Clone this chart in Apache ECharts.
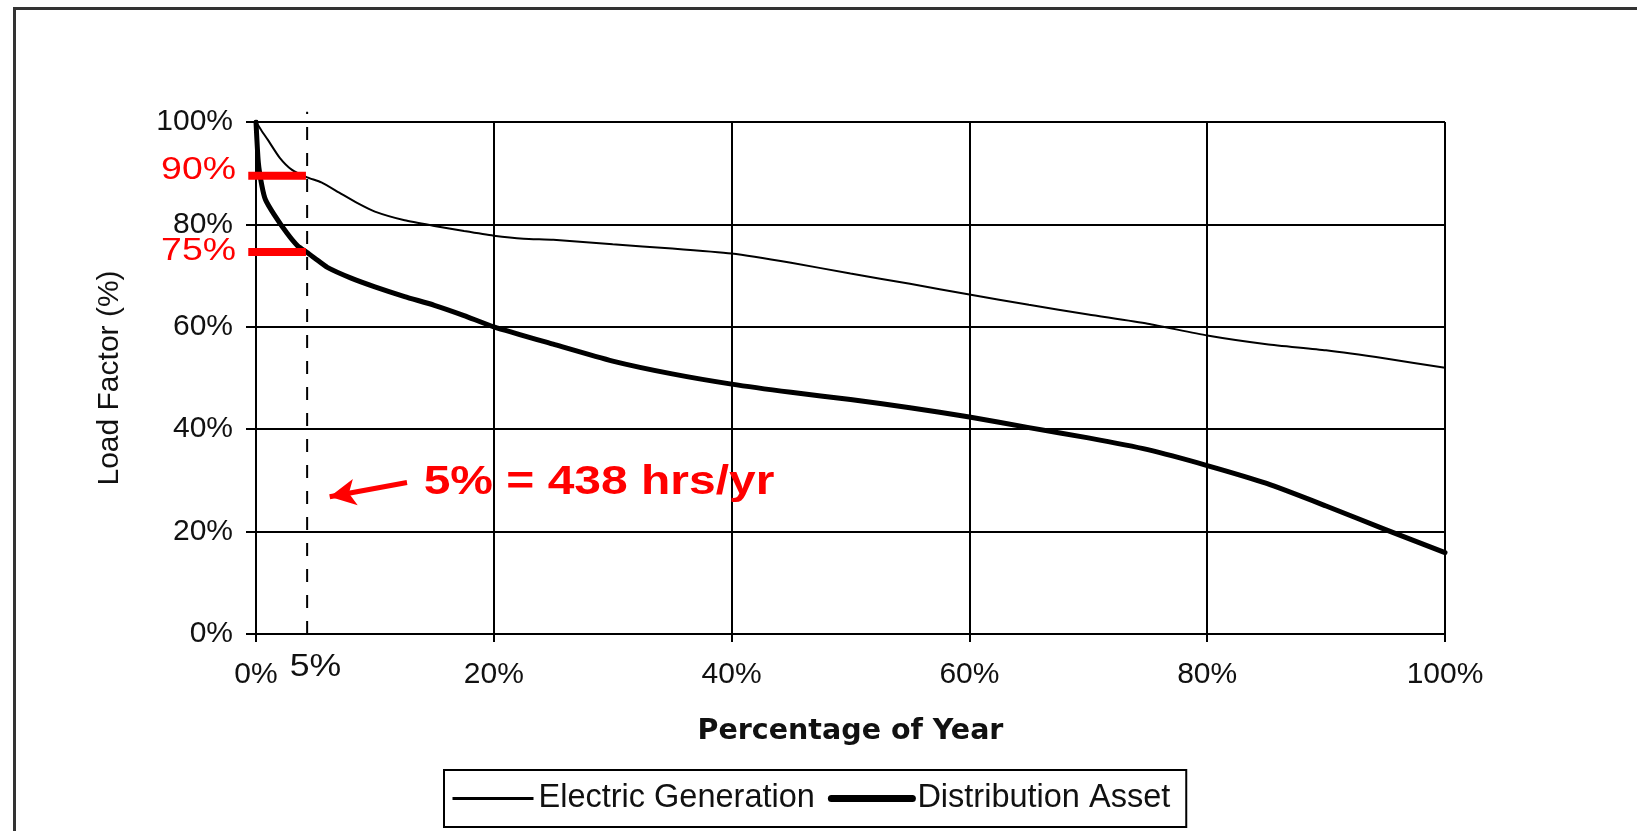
<!DOCTYPE html>
<html><head><meta charset="utf-8">
<script src="https://cdn.jsdelivr.net/npm/echarts@6/dist/echarts.min.js"></script>
<style>html,body{margin:0;padding:0;background:#fff}#c{width:1637px;height:831px}</style>
</head><body><div id="c"></div>
<script>
// ---- data ----
const seriesNames = ['Electric Generation', 'Distribution Asset'];
const genX  = [0, 0.5, 1, 2, 3, 4.3, 5.5, 7, 8.5, 10, 12.5, 15, 17.5, 20, 22.5, 25, 30, 35, 40, 45, 50, 55, 60, 65, 70, 75, 80, 85, 90, 95, 100];
const genY  = [100, 98.2, 96.5, 93, 90.7, 89.2, 88.2, 86.2, 84.2, 82.5, 80.8, 79.7, 78.7, 77.8, 77.2, 77, 76.1, 75.3, 74.3, 72.5, 70.4, 68.4, 66.3, 64.3, 62.4, 60.6, 58.3, 56.6, 55.4, 53.8, 52];
const distX = [0, 0.2, 0.5, 0.8, 1.5, 2.6, 3.5, 4.3, 5, 6, 8, 10, 12.5, 15, 17.5, 20, 25, 30, 35, 40, 45, 50, 55, 60, 65, 70, 75, 80, 85, 90, 95, 100];
const distY = [100, 92, 87.5, 84.8, 82, 78.3, 75.8, 74.5, 73.3, 71.6, 69.5, 67.8, 65.9, 64.2, 62.2, 60, 56.6, 53.3, 50.8, 48.8, 47.2, 45.8, 44.2, 42.4, 40.3, 38.3, 36, 32.9, 29.4, 25, 20.4, 15.9];
const xTickValues = [0, 20, 40, 60, 80, 100];
const xTickLabels = ['0%', '20%', '40%', '60%', '80%', '100%'];
const yTickValues = [0, 20, 40, 60, 80, 100];
const yTickLabels = ['0%', '20%', '40%', '60%', '80%', '100%'];
const markerX = 4.3;            // dashed line position (percentage of year)
const markerLabelX = 5;         // "5%" extra tick label
const markerLabel = '5%';
const levelValues = [89.5, 74.6];
const levelLabelValues = [90.6, 74.8];
const levelLabels = ['90%', '75%'];
const levelBarStart = -0.65;
const levelBarEnd = 4.2;
const noteText = '5% = 438 hrs/yr';
const noteAt = [14.1, 29.6];
const arrowFrom = [12.7, 29.6];
const arrowTo = [6.2, 26.8];

const FONT = '"Liberation Sans", Arial, sans-serif';
const chart = echarts.init(document.getElementById('c'));
const option = {
  animation: false,
  backgroundColor: '#fff',
  textStyle: { fontFamily: FONT },
  grid: { left: 256, right: 192, top: 122, bottom: 197 },
  xAxis: {
    type: 'value', min: 0, max: 100, interval: 20,
    axisLine: { lineStyle: { color: '#000', width: 2 } },
    axisTick: { show: true, length: 8, lineStyle: { color: '#000', width: 2 } },
    axisLabel: { color: '#111', fontSize: 30, margin: 26, fontFamily: FONT,
      formatter: v => xTickLabels[xTickValues.indexOf(v)] },
    splitLine: { show: true, lineStyle: { color: '#000', width: 2 } },
    name: 'Percentage of Year', nameLocation: 'middle', nameGap: 83,
    nameTextStyle: { fontFamily: '"DejaVu Sans", sans-serif', fontWeight: 'bold', fontSize: 28.5, color: '#111' }
  },
  yAxis: {
    type: 'value', min: 0, max: 100, interval: 20,
    axisLine: { show: true, lineStyle: { color: '#000', width: 2 } },
    axisTick: { show: true, length: 10, lineStyle: { color: '#000', width: 2 } },
    axisLabel: { color: '#111', fontSize: 30, margin: 23, fontFamily: FONT,
      formatter: v => yTickLabels[yTickValues.indexOf(v)] },
    splitLine: { show: true, lineStyle: { color: '#000', width: 2 } },
    name: 'Load Factor (%)', nameLocation: 'middle', nameGap: 131, nameRotate: 90,
    nameTextStyle: { fontFamily: FONT, fontSize: 30, color: '#111' }
  },
  legend: {
    left: 444, top: 770, orient: 'horizontal',
    itemWidth: 81, itemHeight: 14, itemGap: 13,
    padding: [12, 16, 12, 7],
    borderColor: '#000', borderWidth: 2,
    textStyle: { fontSize: 32.5, color: '#111', fontFamily: FONT },
    data: [
      { name: seriesNames[0], itemStyle: { opacity: 0 }, lineStyle: { width: 3, opacity: 1 } },
      { name: seriesNames[1], itemStyle: { opacity: 0 }, lineStyle: { width: 7, cap: 'round', opacity: 1 } }
    ]
  },
  series: [
    {
      name: seriesNames[0], type: 'line', symbol: 'none', smooth: 0.2,
      data: genX.map((x, i) => [x, genY[i]]),
      lineStyle: { color: '#000', width: 2 }, itemStyle: { color: '#000' }, z: 3,
      markLine: {
        silent: true, symbol: ['none', 'arrow'], symbolSize: [20, 26],
        label: { show: false },
        lineStyle: { color: '#ff0000', width: 5, type: 'solid' },
        data: [[{ coord: arrowFrom }, { coord: arrowTo }]]
      }
    },
    {
      name: seriesNames[1], type: 'line', symbol: 'none', smooth: 0.2,
      data: distX.map((x, i) => [x, distY[i]]),
      lineStyle: { color: '#000', width: 5, cap: 'round', join: 'round' }, itemStyle: { color: '#000' }, z: 4
    }
  ]
};
chart.setOption(option);

const px = p => chart.convertToPixel({ gridIndex: 0 }, p);
function txt(pos, text, o) {
  return {
    type: 'text', x: pos[0], y: pos[1], scaleX: o.scaleX || 1, z: 100,
    style: {
      text: text, x: 0, y: 0, fill: o.color || '#000',
      fontSize: o.size, fontWeight: o.weight || 'normal', fontFamily: FONT,
      align: o.align || 'left', verticalAlign: 'middle',
      textAlign: o.align || 'left', textVerticalAlign: 'middle'
    }
  };
}
const g = [];
// page frame (left and top edges)
g.push({ type: 'polyline', shape: { points: [[14.5, 831], [14.5, 8.5], [1637, 8.5]] },
  style: { stroke: '#333', lineWidth: 3, fill: null } });
// dashed marker line
const d0 = px([markerX, 0]), d1 = px([markerX, 102]);
g.push({ type: 'line', z: 50, shape: { x1: d0[0], y1: d0[1], x2: d1[0], y2: d1[1] },
  style: { stroke: '#000', lineWidth: 2, lineDash: [13, 13] } });
// level bars + labels
levelValues.forEach((v, i) => {
  const a = px([levelBarStart, v]), b = px([levelBarEnd, v]);
  g.push({ type: 'rect', z: 60, shape: { x: a[0], y: a[1] - 4, width: b[0] - a[0], height: 8 },
    style: { fill: '#ff0000' } });
  const l = px([0, levelLabelValues[i]]);
  g.push(txt([l[0] - 20, l[1]], levelLabels[i], { size: 32, color: '#ff0000', align: 'right', scaleX: 1.17 }));
});
// "5%" extra tick label
const m = px([markerLabelX, 0]);
g.push(txt([m[0], m[1] + 33], markerLabel, { size: 31, color: '#111', align: 'center', scaleX: 1.15 }));
// annotation text
const n = px(noteAt);
g.push(txt(n, noteText, { size: 41, color: '#ff0000', weight: 'bold', scaleX: 1.17 }));
chart.setOption({ graphic: g });
</script></body></html>
